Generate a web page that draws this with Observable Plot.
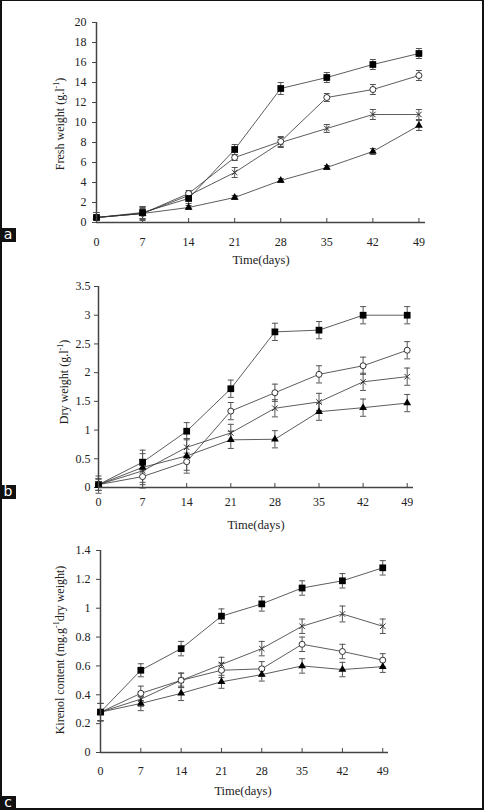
<!DOCTYPE html>
<html><head><meta charset="utf-8">
<script src="https://cdn.jsdelivr.net/npm/d3@7"></script>
<script src="https://cdn.jsdelivr.net/npm/@observablehq/plot@0.6"></script>
<style>
body{margin:0;background:#fff;}
#wrap{position:relative;width:486px;height:810px;overflow:hidden;background:#fff;}
#wrap svg{position:absolute;left:0;}
.frame{position:absolute;left:0;top:0;width:484px;height:810px;box-sizing:border-box;border:2px solid #111;border-top-width:1px;pointer-events:none;}
.tag{position:absolute;left:0;width:16px;height:14px;background:#111;color:#fff;font-family:"DejaVu Sans",sans-serif;font-size:14px;line-height:13px;text-align:center;}
</style></head><body>
<div id="wrap"></div>
<script>
// ---------- data ----------
const days = [0, 7, 14, 21, 28, 35, 42, 49];
const seriesNames = ["square", "circle", "times", "triangle"];

// Panel a: fresh weight (g/l)
const freshSquare   = [0.5, 1.0, 2.4, 7.3, 13.4, 14.5, 15.8, 16.9];
const freshCircle   = [0.5, 0.9, 2.9, 6.5, 8.1, 12.5, 13.3, 14.7];
const freshTimes    = [0.5, 0.9, 2.7, 5.0, 8.0, 9.4, 10.8, 10.8];
const freshTriangle = [0.5, 0.9, 1.5, 2.5, 4.2, 5.5, 7.1, 9.7];
const freshSquareErr   = [0.5, 0.6, 0.5, 0.5, 0.6, 0.5, 0.5, 0.5];
const freshCircleErr   = [0.5, 0.6, 0.3, 0.3, 0.5, 0.4, 0.5, 0.5];
const freshTimesErr    = [0.5, 0.7, 0.3, 0.5, 0.5, 0.4, 0.5, 0.5];
const freshTriangleErr = [0.5, 0.5, 0.2, 0.2, 0.2, 0.2, 0.3, 0.5];

// Panel b: dry weight (g/l)
const drySquare   = [0.05, 0.44, 0.98, 1.72, 2.71, 2.74, 3.0, 3.0];
const dryCircle   = [0.05, 0.19, 0.45, 1.33, 1.65, 1.97, 2.12, 2.39];
const dryTimes    = [0.05, 0.29, 0.70, 0.95, 1.38, 1.49, 1.84, 1.93];
const dryTriangle = [0.05, 0.35, 0.55, 0.83, 0.84, 1.32, 1.39, 1.47];
const drySquareErr   = [0.1, 0.15, 0.15, 0.15, 0.15, 0.15, 0.15, 0.15];
const dryCircleErr   = [0.1, 0.2, 0.15, 0.15, 0.15, 0.15, 0.15, 0.15];
const dryTimesErr    = [0.1, 0.2, 0.15, 0.15, 0.15, 0.15, 0.15, 0.15];
const dryTriangleErr = [0.15, 0.3, 0.3, 0.15, 0.15, 0.15, 0.15, 0.15];

// Panel c: kirenol content (mg/g dry weight)
const kirSquare   = [0.28, 0.57, 0.72, 0.945, 1.03, 1.14, 1.19, 1.28];
const kirCircle   = [0.28, 0.41, 0.50, 0.57, 0.58, 0.75, 0.70, 0.64];
const kirTimes    = [0.28, 0.37, 0.50, 0.61, 0.72, 0.875, 0.96, 0.875];
const kirTriangle = [0.28, 0.34, 0.41, 0.49, 0.54, 0.60, 0.575, 0.595];
const kirSquareErr   = [0.06, 0.045, 0.05, 0.05, 0.05, 0.05, 0.05, 0.05];
const kirCircleErr   = [0.06, 0.05, 0.05, 0.05, 0.05, 0.05, 0.05, 0.045];
const kirTimesErr    = [0.06, 0.05, 0.05, 0.05, 0.05, 0.05, 0.055, 0.05];
const kirTriangleErr = [0.06, 0.05, 0.05, 0.045, 0.045, 0.05, 0.05, 0.04];

// tick labels
const xTicks = days;
const yTicksA = [0, 2, 4, 6, 8, 10, 12, 14, 16, 18, 20];
const yTicksB = [0, 0.5, 1, 1.5, 2, 2.5, 3, 3.5];
const yTicksC = [0, 0.2, 0.4, 0.6, 0.8, 1, 1.2, 1.4];
const xTitle = "Time(days)";
const panelTags = ["a", "b", "c"];

// ---------- helpers ----------
function rowsOf(vals, errs) {
  const out = [];
  vals.forEach((v, si) => days.forEach((d, i) =>
    out.push({day: d, v: v[i], e: errs[si][i], s: seriesNames[si]})));
  return out;
}
const capSymbol = {draw(ctx, size) { const w = Math.sqrt(size / Math.PI); ctx.moveTo(-w, 0); ctx.lineTo(w, 0); }};
const FONT = "Liberation Serif, Times New Roman, serif";

function panel(o) {
  const rows = rowsOf(o.vals, o.errs);
  const frameH = o.height - o.mt - o.mb;
  const plot = Plot.plot({
    width: 486, height: o.height,
    marginTop: o.mt, marginBottom: o.mb, marginLeft: o.ml, marginRight: o.mr,
    style: {fontFamily: FONT, fontSize: "12px", color: "#222", background: "transparent"},
    x: {type: "linear", domain: [0, 50], axis: null},
    y: {type: "linear", domain: [0, o.yMax], axis: null},
    marks: [
      Plot.axisY(o.yTicks, {tickSize: 4, tickPadding: o.yPad, tickFormat: d => String(d), stroke: "#444", fontSize: 12, label: null, fill: "#222"}),
      Plot.axisX(xTicks, {tickSize: 0, tickPadding: o.xPad, tickFormat: d => String(d), fontSize: 12, label: null, fill: "#222"}),
      Plot.tickX(xTicks, {x: d => d, insetTop: frameH - 4, insetBottom: -1, stroke: "#444", strokeWidth: 1}),
      Plot.ruleX(rows, {x: "day", y1: d => d.v - d.e, y2: d => d.v + d.e, stroke: "#555", strokeWidth: 1}),
      Plot.dot(rows, {x: "day", y: d => d.v + d.e, symbol: capSymbol, r: 3, stroke: "#555", strokeWidth: 1}),
      Plot.dot(rows, {x: "day", y: d => d.v - d.e, symbol: capSymbol, r: 3, stroke: "#555", strokeWidth: 1}),
      Plot.line(rows, {x: "day", y: "v", z: "s", stroke: "#333", strokeWidth: 0.8}),
      Plot.dot(rows.filter(d => d.s === "times"), {x: "day", y: "v", symbol: "times", r: 2.6, stroke: "#333", strokeWidth: 1}),
      Plot.dot(rows.filter(d => d.s === "circle"), {x: "day", y: "v", symbol: "circle", r: 3, stroke: "#333", fill: "white", strokeWidth: 1}),
      Plot.dot(rows.filter(d => d.s === "triangle"), {x: "day", y: "v", symbol: "triangle", r: 2.9, fill: "#000", stroke: "none"}),
      Plot.dot(rows.filter(d => d.s === "square"), {x: "day", y: "v", symbol: "square", r: 3.8, fill: "#000", stroke: "none"}),
      Plot.ruleY([0], {stroke: "#444", strokeWidth: 1.5}),
      Plot.ruleX([0], {stroke: "#444", strokeWidth: 1.5})
    ]
  });
  plot.style.top = o.top + "px";
  const svg = d3.select(plot);
  const yl = svg.append("text")
    .attr("transform", `translate(${o.ylx},${o.yly}) rotate(-90)`)
    .attr("text-anchor", "middle").attr("font-family", FONT).attr("font-size", 12).attr("fill", "#222");
  yl.append("tspan").text(o.ylabel[0]);
  yl.append("tspan").attr("font-size", 8).attr("dy", -5).text(o.ylabel[1]);
  yl.append("tspan").attr("dy", 5).text(o.ylabel[2]);
  svg.append("text").attr("x", o.xtx).attr("y", o.xty).attr("text-anchor", "middle")
    .attr("dominant-baseline", "middle").attr("font-family", FONT).attr("font-size", 12.5).attr("fill", "#222").text(xTitle);
  return plot;
}

const wrap = document.getElementById("wrap");
wrap.appendChild(panel({
  top: 0, height: 270, mt: 22, mb: 48, ml: 96, mr: 61, yMax: 20, yTicks: yTicksA, yPad: 6, xPad: 15,
  vals: [freshSquare, freshCircle, freshTimes, freshTriangle],
  errs: [freshSquareErr, freshCircleErr, freshTimesErr, freshTriangleErr],
  ylabel: ["Fresh weight (g.l", "-1", ")"], ylx: 64, yly: 124, xtx: 261, xty: 261
}));
wrap.appendChild(panel({
  top: 270, height: 270, mt: 16, mb: 53, ml: 98, mr: 73, yMax: 3.5, yTicks: yTicksB, yPad: 4, xPad: 10,
  vals: [drySquare, dryCircle, dryTimes, dryTriangle],
  errs: [drySquareErr, dryCircleErr, dryTimesErr, dryTriangleErr],
  ylabel: ["Dry weight (g.l", "-1", ")"], ylx: 68, yly: 112, xtx: 256, xty: 256
}));
wrap.appendChild(panel({
  top: 540, height: 270, mt: 10, mb: 58, ml: 100, mr: 98, yMax: 1.4, yTicks: yTicksC, yPad: 6, xPad: 14,
  vals: [kirSquare, kirCircle, kirTimes, kirTriangle],
  errs: [kirSquareErr, kirCircleErr, kirTimesErr, kirTriangleErr],
  ylabel: ["Kirenol content (mg.g", "-1", "dry weight)"], ylx: 64, yly: 110, xtx: 243, xty: 252
}));

const frame = document.createElement("div"); frame.className = "frame"; wrap.appendChild(frame);
[228, 485, 796].forEach((t, i) => {
  const tag = document.createElement("div"); tag.className = "tag"; tag.style.top = t + "px";
  tag.textContent = panelTags[i]; wrap.appendChild(tag);
});
</script>
</body></html>
